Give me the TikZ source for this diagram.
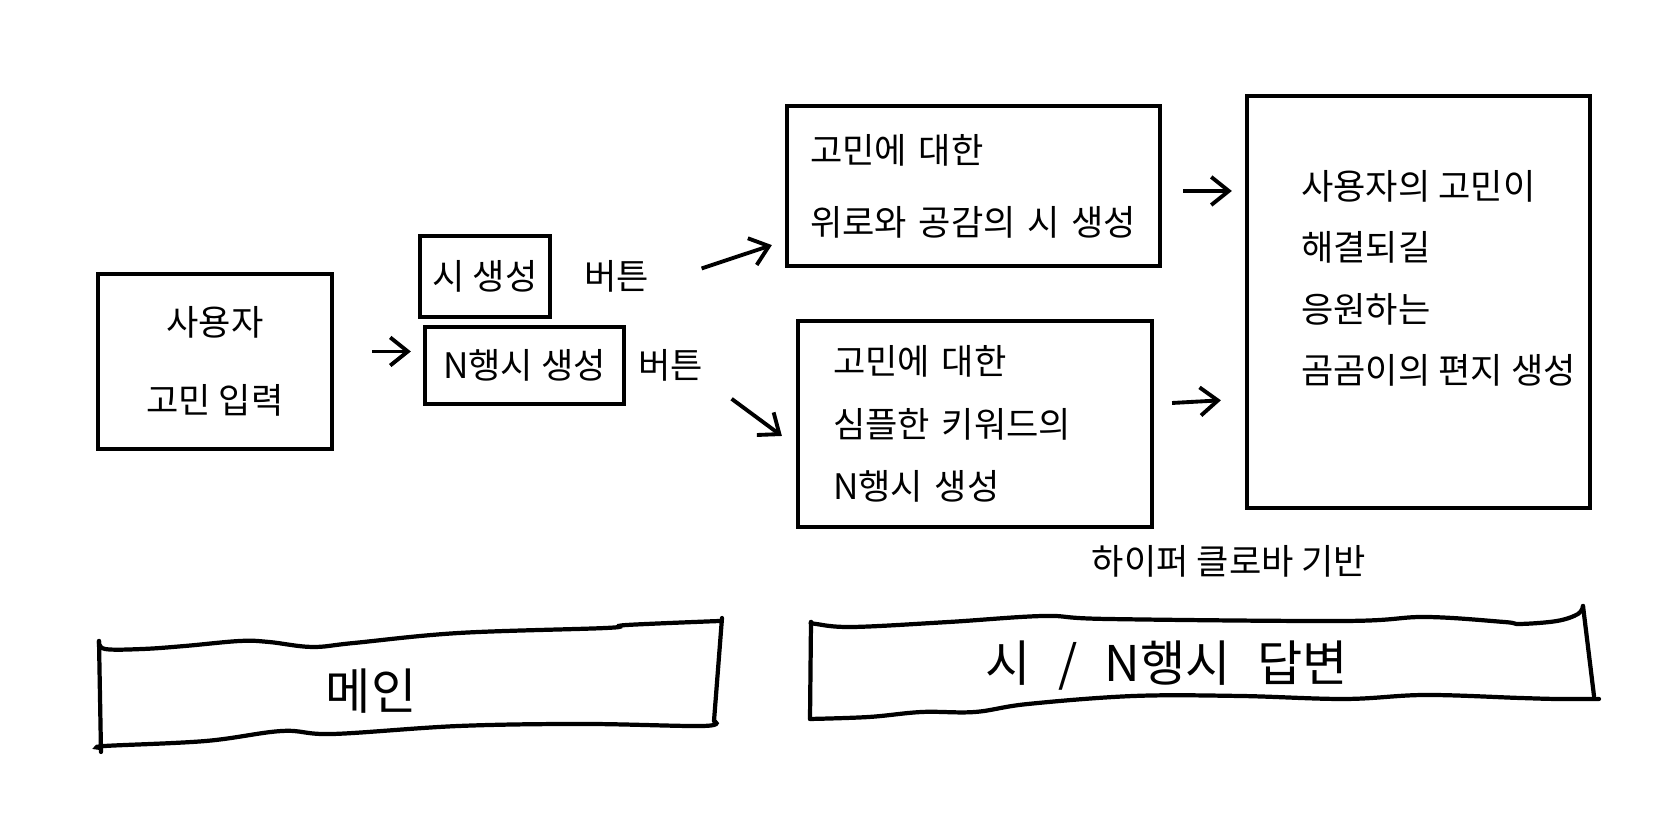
\documentclass[tikz,border=0pt]{standalone}
\usepackage{fontspec}
\setmainfont{Noto Sans CJK KR}
\usetikzlibrary{arrows.meta,positioning}
\newcommand\widesp{\spaceskip=0.55em\relax}

\begin{document}
\begin{tikzpicture}[every node/.style={font=\fontsize{10}{19}\selectfont},
  box/.style={draw,line width=1.2pt,inner sep=0pt},
  btn/.style={draw,line width=1.2pt,inner sep=0pt},
  arr/.style={-{Straight Barb[length=5pt,width=8pt]},line width=1.1pt},
  wave/.style={line width=1.2pt,line cap=round}]
\useasboundingbox (0,0) rectangle (16.68,8.24);
% main screen
\node[box,minimum width=2.34cm,minimum height=1.75cm,align=center,font=\fontsize{10}{22}\selectfont] (user) at (2.15,4.625) {사용자\\고민 입력};
\node[btn,minimum width=1.30cm,minimum height=0.81cm] (poembtn) at (4.85,5.475) {시 생성};
\node[btn,minimum width=1.99cm,minimum height=0.77cm] (nbtn) at (5.245,4.585) {N행시 생성};
\node[right=0.2cm of poembtn] (poemlbl) {버튼};
\node[right=0cm of nbtn] (nlbl) {버튼};
% answers
\node[box,minimum width=3.73cm,minimum height=1.60cm,align=left,text width=3.27cm,font=\fontsize{10}{20.5}\selectfont] (poem) at (9.735,6.38) {고민에 대한\\위로와 공감의 시 생성};
\node[box,minimum width=3.54cm,minimum height=2.06cm,align=left,text width=2.84cm,font=\fontsize{10}{17.7}\selectfont] (nline) at (9.75,4.00) {고민에 대한\\심플한 키워드의\\N행시 생성};
\node[box,minimum width=3.43cm,minimum height=4.12cm] (letter) at (14.185,5.22) {};
\node[below right=0.64cm and 0.44cm of letter.north west,anchor=north west,align=left,font=\fontsize{10}{17.5}\selectfont] (lettertxt) {사용자의 고민이\\해결되길\\응원하는\\곰곰이의 편지 생성};
\node (clova) at (12.29,2.63) {하이퍼 클로바 기반};
% arrows
\draw[arr,shorten <=0.38cm,shorten >=0.12cm] ([yshift=0.1cm]user.east) -- ([yshift=0.1cm]user.east -| nbtn.west);
\draw[arr] ([xshift=0.4cm,yshift=0.08cm]poemlbl.east) -- ([xshift=-0.13cm,yshift=0.23cm]poem.south west);
\draw[arr] ([xshift=0.16cm,yshift=-0.05cm]nlbl.south east) -- ([xshift=-0.14cm,yshift=-0.12cm]nline.west);
\draw[arr,shorten <=0.21cm,shorten >=0.13cm] ([yshift=-0.05cm]poem.east) -- ([yshift=-0.05cm]poem.east -| letter.west);
\draw[arr,shorten <=0.18cm,shorten >=0.24cm] ([yshift=0.2cm]nline.east) -- ([yshift=0.25cm]nline.east -| letter.west);
% page banners
\draw[wave] (0.99,1.83) -- (1.01,0.72);
\draw[wave] plot[smooth,tension=0.6] coordinates {(0.99,1.83) (1.05,1.75) (1.43,1.75) (1.85,1.78) (2.40,1.83) (2.69,1.82) (3.12,1.77) (3.54,1.81) (4.59,1.91) (6.06,1.96) (6.27,1.99) (7.20,2.03)};
\draw[wave] plot[smooth,tension=0.6] coordinates {(1.01,0.76) (1.05,0.78) (2.06,0.83) (2.82,0.93) (3.33,0.90) (4.59,0.98) (5.85,1.00) (7.03,0.98) (7.14,1.03)};
\draw[wave] (7.22,2.06) -- (7.14,1.03);
\node[font=\fontsize{14}{16}\selectfont] (mainpg) at (3.71,1.33) {메인};
\draw[wave] (8.11,2.02) -- (8.10,1.05);
\draw[wave] plot[smooth,tension=0.6] coordinates {(8.11,2.02) (8.16,2.00) (8.53,1.97) (9.49,2.02) (10.44,2.08) (11.07,2.05) (13.45,2.03) (14.25,2.07) (15.04,2.02) (15.20,2.00) (15.57,2.03) (15.78,2.10) (15.83,2.18)};
\draw[wave] plot[smooth,tension=0.6] coordinates {(8.10,1.05) (8.69,1.07) (9.22,1.12) (9.75,1.12) (10.28,1.20) (11.34,1.28) (12.40,1.28) (13.45,1.25) (14.25,1.29) (15.20,1.26) (15.57,1.25) (15.99,1.25)};
\draw[wave] (15.83,2.18) -- (15.94,1.28);
\node[font=\fontsize{14}{16}\selectfont\widesp] (answerpg) at (11.67,1.58) {시 / N행시 답변};
\end{tikzpicture}
\end{document}
